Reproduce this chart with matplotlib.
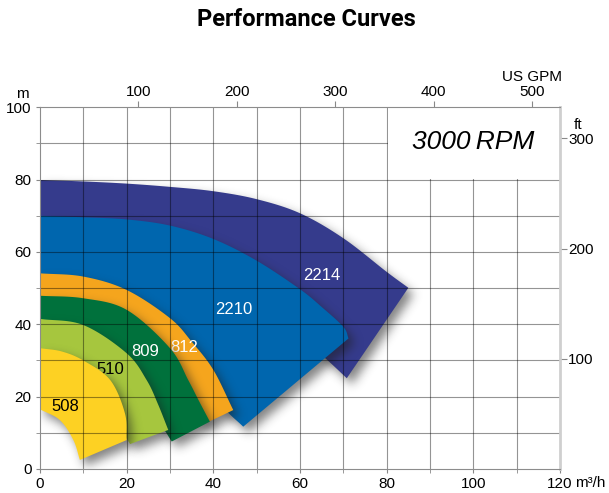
import matplotlib
matplotlib.use("Agg")

import matplotlib.pyplot as plt
import numpy as np
from matplotlib.path import Path
from matplotlib.patches import Polygon, Rectangle

# flow (m3/h) / head (m) along the max impeller (top) and min impeller (bottom) edges
q_top_2214 = [0, 10, 20, 30, 40, 50, 60, 70, 80, 85]
h_top_2214 = [79.9, 79.5, 78.9, 78.0, 76.8, 74.6, 70.7, 63.8, 54.5, 50.1]
q_bot_2214 = [0, 20, 40, 55, 65.4, 70.8]
h_bot_2214 = [60, 58, 52, 42, 31.1, 25.1]

q_top_2210 = [0, 10, 20, 30, 40, 50, 60, 65, 70, 71.2]
h_top_2210 = [70.0, 69.6, 69.0, 67.3, 63.6, 57.6, 49.7, 44.8, 39.3, 36.1]
q_bot_2210 = [0, 10, 20, 30, 36, 42, 46.9]
h_bot_2210 = [48, 47, 44, 36, 28, 17.5, 11.7]

q_top_812 = [0, 10, 20, 30, 35, 40, 44.6]
h_top_812 = [54.1, 53.2, 49.5, 41.7, 35.2, 27.4, 16.3]
q_bot_812 = [0, 10, 20, 28, 33, 38.5]
h_bot_812 = [40, 39, 35, 26, 18, 12.8]

q_top_809 = [0, 10, 20, 30, 34.2, 36.6, 39.2]
h_top_809 = [47.9, 47.2, 44.0, 33.4, 24.6, 19.0, 13.1]
q_bot_809 = [0, 10, 18, 24, 28, 30.4]
h_bot_809 = [33, 31, 25, 18, 12, 7.6]

q_top_510 = [0, 10, 20, 24.6, 27.2, 29.6]
h_top_510 = [41.5, 39.8, 32.0, 24.6, 18.0, 10.8]
q_bot_510 = [0, 8, 14, 18, 20.8]
h_bot_510 = [25, 23, 18, 12, 6.9]

q_top_508 = [0, 5, 10, 16.2, 19.6, 20.0]
h_top_508 = [33.4, 32.5, 30.0, 24.6, 15.4, 8.0]
q_bot_508 = [0, 4.6, 7.7, 9.2]
h_bot_508 = [16.5, 13.5, 8.0, 2.5]

models = ["2214", "2210", "812", "809", "510", "508"]
gpm_ticks = [100, 200, 300, 400, 500]
ft_ticks = [100, 200, 300]

M3H_TO_GPM = 4.40287
M_TO_FT = 3.28084

colors = ["#353b8c", "#0066ae", "#f5a51d", "#00713c", "#a6c63e", "#fdd123"]
text_colors = ["white", "white", "white", "white", "black", "black"]
label_pos = [(65, 53.6), (44.8, 44.2), (33.2, 33.6), (24.2, 32.4), (16.2, 27.4), (5.8, 17.2)]

plt.rcParams["font.family"] = ["Liberation Sans", "DejaVu Sans"]


def smooth(xs, ys, n=16):
    # Catmull-Rom pass through the read points, only so the edges are drawn as curves
    p = np.column_stack([xs, ys]).astype(float)
    p = np.vstack([2 * p[0] - p[1], p, 2 * p[-1] - p[-2]])
    out = []
    t = np.linspace(0, 1, n, endpoint=False)[:, None]
    for k in range(1, len(p) - 2):
        p0, p1, p2, p3 = p[k - 1], p[k], p[k + 1], p[k + 2]
        seg = 0.5 * ((2 * p1) + (-p0 + p2) * t + (2 * p0 - 5 * p1 + 4 * p2 - p3) * t ** 2
                     + (-p0 + 3 * p1 - 3 * p2 + p3) * t ** 3)
        out.append(seg)
    out.append(p[-2][None, :])
    return np.vstack(out)


def blur(a, sigma):
    r = int(3 * sigma)
    k = np.exp(-0.5 * (np.arange(-r, r + 1) / sigma) ** 2)
    k /= k.sum()
    a = np.apply_along_axis(lambda v: np.convolve(v, k, mode="same"), 0, a)
    a = np.apply_along_axis(lambda v: np.convolve(v, k, mode="same"), 1, a)
    return a


fig = plt.figure(figsize=(6.09, 4.93), dpi=100)
ax = fig.add_axes([40 / 609, 1 - 469 / 493, 520 / 609, (469 - 107.3) / 493])

tops = [(q_top_2214, h_top_2214), (q_top_2210, h_top_2210), (q_top_812, h_top_812),
        (q_top_809, h_top_809), (q_top_510, h_top_510), (q_top_508, h_top_508)]
bots = [(q_bot_2214, h_bot_2214), (q_bot_2210, h_bot_2210), (q_bot_812, h_bot_812),
        (q_bot_809, h_bot_809), (q_bot_510, h_bot_510), (q_bot_508, h_bot_508)]

# shadow raster grid (roughly one cell per pixel)
W, H = 520, 362
gx = (np.arange(W) + 0.5) / W * 120
gy = (np.arange(H) + 0.5) / H * 100
GX, GY = np.meshgrid(gx, gy)
dx, dy = 1.2, -1.7

for i, name in enumerate(models):
    (qt, ht), (qb, hb) = tops[i], bots[i]
    upper = smooth(qt, ht)
    lower = smooth(qb, hb)
    verts = np.vstack([upper, lower[::-1]])
    pts = np.column_stack([GX.ravel() - dx, GY.ravel() - dy])
    mask = Path(verts).contains_points(pts).reshape(H, W).astype(float)
    shade = np.zeros((H, W, 4))
    shade[..., 0:3] = 0.12
    shade[..., 3] = blur(mask, 5.0) * 0.55
    ax.imshow(shade, extent=(0, 120, 0, 100), origin="lower", aspect="auto",
              interpolation="bilinear", zorder=2 + 2 * i)
    ax.add_patch(Polygon(verts, closed=True, facecolor=colors[i], edgecolor="none",
                         zorder=3 + 2 * i))
    ax.text(label_pos[i][0], label_pos[i][1], name, color=text_colors[i], fontsize=12,
            ha="center", va="center", zorder=3 + 2 * i)

ax.set_xlim(0, 120)
ax.set_ylim(0, 100)

# grid drawn over the curves
for v in range(10, 120, 10):
    ax.axvline(v, color="black", alpha=0.42, lw=0.8, zorder=20)
for v in range(10, 100, 10):
    ax.axhline(v, color="black", alpha=0.42, lw=0.8, zorder=20)
ax.add_patch(Rectangle((80.3, 80.3), 39.7, 19.7, facecolor="white", edgecolor="none", zorder=21))
ax.text(100, 90.5, "3000\u2009RPM", fontsize=19, style="italic", ha="center", va="center",
        zorder=22)

ax.set_xticks(range(0, 121, 20))
ax.set_xticks(range(0, 121, 10), minor=True)
ax.set_yticks(range(0, 101, 20))
ax.set_yticks(range(0, 101, 10), minor=True)
ax.tick_params(which="both", length=3, color="#888888", labelsize=11, pad=3)

for side in ["left", "bottom", "top"]:
    ax.spines[side].set_color("#8c8c8c")
    ax.spines[side].set_linewidth(0.8)
    ax.spines[side].set_zorder(30)
ax.spines["right"].set_color("#cfcfcf")
ax.spines["right"].set_linewidth(2)
ax.spines["right"].set_zorder(30)

top = ax.secondary_xaxis("top", functions=(lambda q: q * M3H_TO_GPM, lambda g: g / M3H_TO_GPM))
top.set_xticks(gpm_ticks)
top.tick_params(length=4, color="#888888", labelsize=11, pad=2)
top.spines["top"].set_visible(False)

right = ax.secondary_yaxis("right", functions=(lambda h: h * M_TO_FT, lambda f: f / M_TO_FT))
right.set_yticks(ft_ticks)
right.tick_params(length=5, color="#888888", labelsize=11, pad=1)
right.spines["right"].set_visible(False)

fig.text(22 / 609, 1 - 94 / 493, "m", fontsize=11, ha="center", va="center")
fig.text(531.7 / 609, 1 - 76.7 / 493, "US GPM", fontsize=11, ha="center", va="center")
fig.text(578 / 609, 1 - 125 / 493, "ft", fontsize=11, ha="center", va="center")
fig.text(575 / 609, 1 - 483 / 493, "m³/h", fontsize=11, ha="left", va="center")

fig.text(306 / 609, 1 - 20 / 493, "Performance Curves", fontsize=17, fontweight="bold",
         family="Roboto", ha="center", va="center")

fig.savefig("out.png", dpi=100)
